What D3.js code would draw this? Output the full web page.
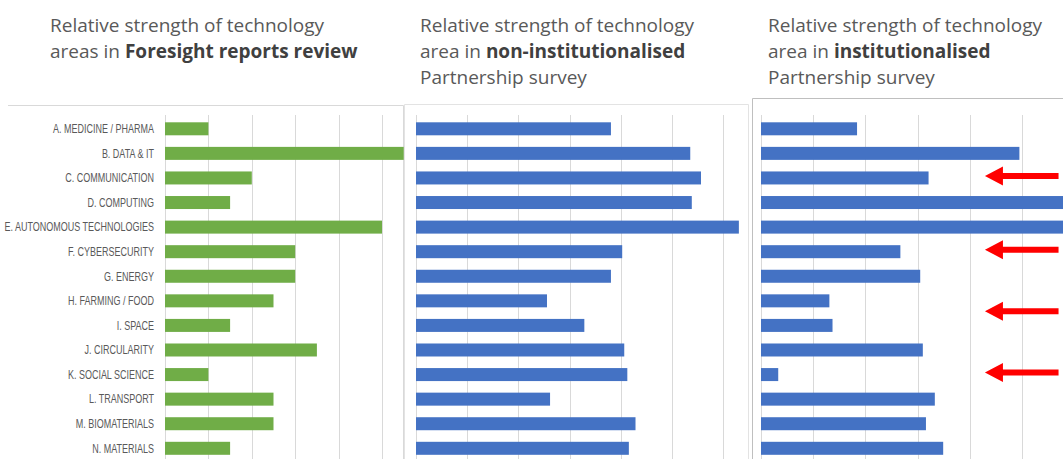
<!DOCTYPE html>
<html lang="en">
<head>
  <meta charset="UTF-8">
  <script src="https://d3js.org/d3.v7.min.js"></script>
  <title>Relative strength of technology areas</title>
  <style>
    body { margin: 0; background: #fff; }
  </style>
</head>
<body>
  <script type="text/javascript">

    const w = 1063;
    const h = 459;

    // technology areas (same order in all three panels)
    const categories = [
      "A. MEDICINE / PHARMA", "B. DATA & IT", "C. COMMUNICATION", "D. COMPUTING",
      "E. AUTONOMOUS TECHNOLOGIES", "F. CYBERSECURITY", "G. ENERGY", "H. FARMING / FOOD",
      "I. SPACE", "J. CIRCULARITY", "K. SOCIAL SCIENCE", "L. TRANSPORT",
      "M. BIOMATERIALS", "N. MATERIALS"
    ];

    // values, in gridline units
    const foresight = [1, 5.5, 2, 1.5, 5, 3, 3, 2.5, 1.5, 3.5, 1, 2.5, 2.5, 1.5];
    const nonInstitutional = [3.81, 5.36, 5.57, 5.39, 6.31, 4.03, 3.81, 2.56, 3.29, 4.07, 4.13, 2.62, 4.29, 4.16];
    const institutional = [1.84, 4.95, 3.21, 6.3, 6.4, 2.67, 3.05, 1.31, 1.37, 3.1, 0.33, 3.33, 3.16, 3.49];

    // gridline positions per panel
    const grid1 = [0, 1, 2, 3, 4, 5];
    const grid2 = [0, 1, 2, 3, 4, 5, 6];
    const grid3 = [0, 1, 2, 3, 4, 5];

    // rows that the red arrows point at (institutionalised panel)
    const arrowTargets = [
      ["C. COMMUNICATION"],
      ["F. CYBERSECURITY"],
      ["H. FARMING / FOOD", "I. SPACE"],
      ["K. SOCIAL SCIENCE"]
    ];

    const titles = [
      [[["Relative strength of technology", false]],
       [["areas in ", false], ["Foresight reports review", true]]],
      [[["Relative strength of technology", false]],
       [["area in ", false], ["non-institutionalised", true]],
       [["Partnership survey", false]]],
      [[["Relative strength of technology", false]],
       [["area in ", false], ["institutionalised", true]],
       [["Partnership survey", false]]]
    ];

    const svg = d3.select("body")
      .append("svg")
      .attr("width", w)
      .attr("height", h);

    const y = d3.scalePoint()
      .domain(categories)
      .range([128.8, 448.3]);
    const barH = 13;
    const gridTop = 115;

    const x1 = d3.scaleLinear().domain([0, 5]).range([165, 382]);
    const x2 = d3.scaleLinear().domain([0, 6]).range([416, 723]);
    const x3 = d3.scaleLinear().domain([0, 5]).range([761, 1022]);

    // panel frames
    svg.append("path")
      .attr("d", "M8,105.5H403.5V" + h)
      .attr("fill", "none").attr("stroke", "#d9d9d9");
    svg.append("path")
      .attr("d", "M404.5," + h + "V104.5H748.5V" + h)
      .attr("fill", "none").attr("stroke", "#e3e3e3");
    svg.append("path")
      .attr("d", "M752.5," + h + "V98.5H" + w)
      .attr("fill", "none").attr("stroke", "#bfbfbf");

    // titles
    const titleX = [50, 420, 768];
    titles.forEach(function (lines, p) {
      lines.forEach(function (parts, li) {
        const t = svg.append("text")
          .attr("x", titleX[p])
          .attr("y", 31.5 + li * 26)
          .attr("font-family", "'Open Sans', sans-serif")
          .attr("font-size", "19px")
          .attr("fill", "#595959");
        parts.forEach(function (part) {
          t.append("tspan")
            .text(part[0])
            .attr("font-weight", part[1] ? "bold" : "normal")
            .attr("fill", part[1] ? "#404040" : "#595959");
        });
      });
    });

    function drawPanel(x, ticks, values, color, clipRight) {
      const g = svg.append("g");
      g.selectAll("line.grid")
        .data(ticks)
        .enter()
        .append("line")
        .attr("class", "grid")
        .attr("x1", function (d) { return Math.round(x(d)) + 0.5; })
        .attr("x2", function (d) { return Math.round(x(d)) + 0.5; })
        .attr("y1", gridTop)
        .attr("y2", h)
        .attr("stroke", "#d9d9d9")
        .attr("stroke-width", 1);

      g.selectAll("rect")
        .data(values)
        .enter()
        .append("rect")
        .attr("x", x(0))
        .attr("y", function (d, i) { return y(categories[i]) - barH / 2; })
        .attr("width", function (d) { return Math.min(x(d), clipRight) - x(0); })
        .attr("height", barH)
        .attr("fill", color);
      return g;
    }

    drawPanel(x1, grid1, foresight, "#70ad47", 404);
    drawPanel(x2, grid2, nonInstitutional, "#4472c4", w);
    drawPanel(x3, grid3, institutional, "#4472c4", w);

    // category labels (condensed look via horizontal scaling)
    const sx = 0.75;
    svg.append("g")
      .attr("transform", "scale(" + sx + ",1)")
      .selectAll("text")
      .data(categories)
      .enter()
      .append("text")
      .text(function (d) { return d; })
      .attr("x", 154 / sx)
      .attr("y", function (d) { return y(d); })
      .attr("dy", "0.36em")
      .attr("text-anchor", "end")
      .attr("font-family", "Liberation Sans, Arial, sans-serif")
      .attr("font-size", "12px")
      .attr("fill", "#595959");

    // red arrows
    const arrowTail = 5.7, arrowTip = 4.29, headLen = 18, headHalf = 9.5, shaftHalf = 3;
    svg.selectAll("path.arrow")
      .data(arrowTargets)
      .enter()
      .append("path")
      .attr("class", "arrow")
      .attr("d", function (d) {
        const cy = d3.mean(d, function (c) { return y(c); }) - 2;
        const tip = x3(arrowTip), tail = x3(arrowTail), base = tip + headLen;
        return "M" + tip + "," + cy +
          "L" + base + "," + (cy - headHalf) +
          "L" + base + "," + (cy - shaftHalf) +
          "L" + tail + "," + (cy - shaftHalf) +
          "L" + tail + "," + (cy + shaftHalf) +
          "L" + base + "," + (cy + shaftHalf) +
          "L" + base + "," + (cy + headHalf) + "Z";
      })
      .attr("fill", "#ff0000");

  </script>
</body>
</html>
